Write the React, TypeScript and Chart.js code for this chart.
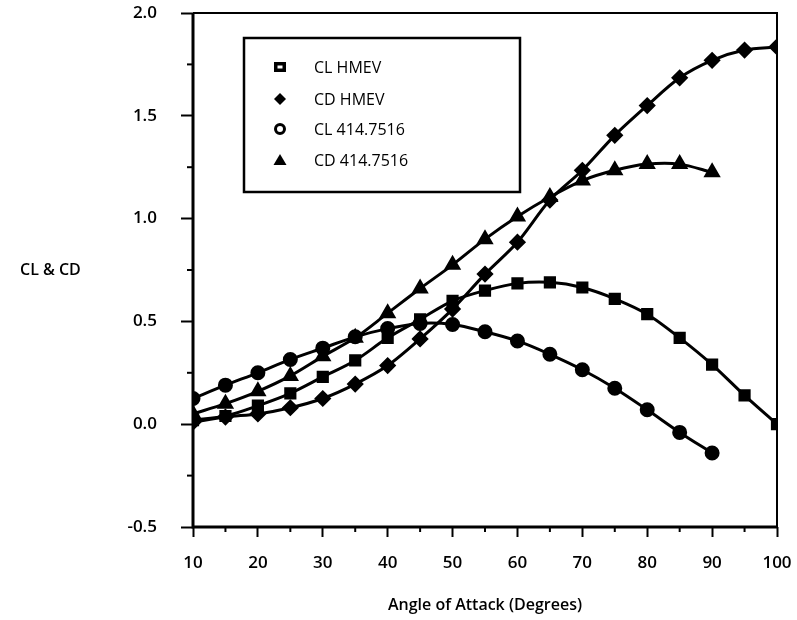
import React, { useEffect, useRef } from "react";
import { Chart, registerables } from "chart.js";

Chart.register(...registerables);

const angles = [10, 15, 20, 25, 30, 35, 40, 45, 50, 55, 60, 65, 70, 75, 80, 85, 90, 95, 100];
const clHmev = [0.02, 0.04, 0.09, 0.15, 0.23, 0.31, 0.42, 0.51, 0.6, 0.65, 0.685, 0.69, 0.665, 0.61, 0.535, 0.42, 0.29, 0.14, 0.0];
const cdHmev = [0.01, 0.035, 0.05, 0.08, 0.125, 0.195, 0.285, 0.415, 0.56, 0.73, 0.885, 1.09, 1.235, 1.405, 1.55, 1.685, 1.77, 1.82, 1.835];
const cl414 = [0.125, 0.19, 0.25, 0.315, 0.37, 0.425, 0.465, 0.49, 0.485, 0.45, 0.405, 0.34, 0.265, 0.175, 0.07, -0.04, -0.14];
const cd414 = [0.05, 0.1, 0.16, 0.235, 0.33, 0.42, 0.54, 0.66, 0.775, 0.9, 1.01, 1.105, 1.185, 1.235, 1.265, 1.265, 1.225];

const seriesNames = ["CL HMEV", "CD HMEV", "CL 414.7516", "CD 414.7516"];
const xTitle = "Angle of Attack (Degrees)";
const yTitle = "CL & CD";

const FONT = "'Open Sans', 'DejaVu Sans', sans-serif";

function pts(vals: number[]) {
  return vals.map((v, i) => ({ x: angles[i], y: v }));
}

const framePlugin = {
  id: "frame",
  afterDraw(chart: any) {
    const { ctx, chartArea: a, scales } = chart;
    const xs = scales.x;
    const ys = scales.y;
    ctx.save();
    ctx.strokeStyle = "#000";
    // minor ticks
    ctx.lineWidth = 2;
    for (let v = 15; v < 100; v += 10) {
      const px = xs.getPixelForValue(v);
      ctx.beginPath();
      ctx.moveTo(px, a.bottom);
      ctx.lineTo(px, a.bottom + 5);
      ctx.stroke();
    }
    for (let v = -0.25; v < 2; v += 0.5) {
      const py = ys.getPixelForValue(v);
      ctx.beginPath();
      ctx.moveTo(a.left, py);
      ctx.lineTo(a.left - 6, py);
      ctx.stroke();
    }
    // frame
    ctx.lineWidth = 2;
    ctx.beginPath();
    ctx.moveTo(a.left, a.top);
    ctx.lineTo(a.right, a.top);
    ctx.lineTo(a.right, a.bottom);
    ctx.stroke();
    ctx.lineWidth = 3;
    ctx.beginPath();
    ctx.moveTo(a.left, a.top);
    ctx.lineTo(a.left, a.bottom);
    ctx.lineTo(a.right, a.bottom);
    ctx.stroke();

    // y title (horizontal)
    ctx.fillStyle = "#000";
    ctx.font = `600 16px ${FONT}`;
    ctx.textAlign = "left";
    ctx.textBaseline = "middle";
    ctx.fillText(yTitle, 20, (a.top + a.bottom) / 2);

    // x title
    ctx.textAlign = "center";
    ctx.font = `600 16px ${FONT}`;
    ctx.fillText(xTitle, (a.left + a.right) / 2, 605);

    // legend
    const lx = a.left + 51;
    const ly = a.top + 25;
    const lw = 276;
    const lh = 154;
    ctx.fillStyle = "#fff";
    ctx.fillRect(lx, ly, lw, lh);
    ctx.lineWidth = 2.5;
    ctx.strokeStyle = "#000";
    ctx.strokeRect(lx, ly, lw, lh);
    const rows = [29, 61, 91, 122];
    ctx.font = `500 16px ${FONT}`;
    ctx.textAlign = "left";
    ctx.textBaseline = "middle";
    rows.forEach((dy, i) => {
      const mx = lx + 36;
      const my = ly + dy;
      ctx.fillStyle = "#000";
      ctx.strokeStyle = "#000";
      if (i === 0) {
        ctx.fillRect(mx - 6, my - 5, 12, 10);
        ctx.fillStyle = "#fff";
        ctx.fillRect(mx - 2.5, my - 1.5, 5, 3);
      } else if (i === 1) {
        ctx.beginPath();
        ctx.moveTo(mx, my - 6);
        ctx.lineTo(mx + 6, my);
        ctx.lineTo(mx, my + 6);
        ctx.lineTo(mx - 6, my);
        ctx.closePath();
        ctx.fill();
      } else if (i === 2) {
        ctx.lineWidth = 3;
        ctx.beginPath();
        ctx.arc(mx, my, 4.5, 0, Math.PI * 2);
        ctx.stroke();
      } else {
        ctx.beginPath();
        ctx.moveTo(mx, my - 6);
        ctx.lineTo(mx + 6.5, my + 5);
        ctx.lineTo(mx - 6.5, my + 5);
        ctx.closePath();
        ctx.fill();
      }
      ctx.fillStyle = "#000";
      ctx.fillText(seriesNames[i], lx + 70, my + 1);
    });
    ctx.restore();
  },
};

export default function App() {
  const ref = useRef<HTMLCanvasElement | null>(null);
  useEffect(() => {
    if (!ref.current) return;
    const common = {
      borderColor: "#000",
      backgroundColor: "#000",
      pointBackgroundColor: "#000",
      pointBorderColor: "#000",
      borderWidth: 3,
      tension: 0.3,
      fill: false,
    };
    const chart = new Chart(ref.current, {
      type: "line",
      data: {
        datasets: [
          { ...common, label: seriesNames[0], data: pts(clHmev), pointStyle: "rect", pointRadius: 6.5 },
          { ...common, label: seriesNames[1], data: pts(cdHmev), pointStyle: "rectRot", pointRadius: 6.5 },
          { ...common, label: seriesNames[2], data: pts(cl414), pointStyle: "circle", pointRadius: 6 },
          { ...common, label: seriesNames[3], data: pts(cd414), pointStyle: "triangle", pointRadius: 7 },
        ],
      },
      options: {
        animation: false,
        responsive: false,
        devicePixelRatio: 1,
        layout: { padding: { left: 0, top: 13, right: 20, bottom: 0 } },
        plugins: { legend: { display: false }, tooltip: { enabled: false } },
        scales: {
          x: {
            type: "linear",
            min: 10,
            max: 100,
            afterFit: (s: any) => {
              s.height = 93;
              s.paddingLeft = 0;
              s.paddingRight = 0;
            },
            ticks: {
              stepSize: 10,
              color: "#000",
              padding: 16,
              font: { family: FONT, size: 17, weight: "600" },
              maxRotation: 0,
            },
            grid: { drawOnChartArea: false, drawTicks: true, tickLength: 10, tickWidth: 2, tickColor: "#000", color: "#000" },
            border: { display: false },
          },
          y: {
            type: "linear",
            min: -0.5,
            max: 2,
            afterFit: (s: any) => {
              s.width = 193;
              s.paddingTop = 0;
              s.paddingBottom = 0;
            },
            ticks: {
              stepSize: 0.5,
              color: "#000",
              padding: 24,
              font: { family: FONT, size: 17, weight: "600" },
              callback: (v: any) => Number(v).toFixed(1),
            },
            grid: { drawOnChartArea: false, drawTicks: true, tickLength: 12, tickWidth: 2, tickColor: "#000", color: "#000" },
            border: { display: false },
          },
        },
      },
      plugins: [framePlugin],
    } as any);
    return () => chart.destroy();
  }, []);
  return (
    <div style={{ position: "fixed", left: 0, top: 0, width: 797, height: 620, background: "#fff" }}>
      <canvas ref={ref} width={797} height={620} style={{ display: "block", width: 797, height: 620 }} />
    </div>
  );
}
